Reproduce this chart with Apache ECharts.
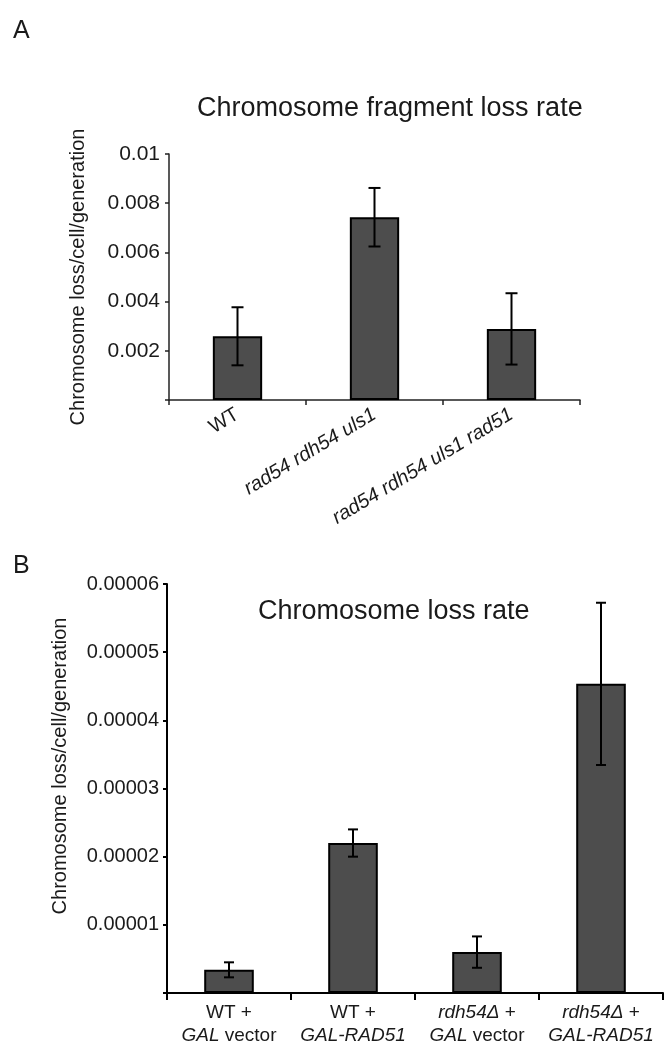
<!DOCTYPE html>
<html>
<head>
<meta charset="utf-8">
<script src="https://cdn.jsdelivr.net/npm/echarts@6/dist/echarts.min.js"></script>
<style>
  html, body { margin: 0; padding: 0; background: #fff; }
  #chart { width: 668px; height: 1050px; }
</style>
</head>
<body>
<div id="chart"></div>
<script>
// panel A: chromosome fragment loss
var catsA = ['WT', 'rad54 rdh54 uls1', 'rad54 rdh54 uls1 rad51']
var rateA = [0.00259, 0.00743, 0.00289]
var errA = [0.00118, 0.00119, 0.00145]
var ticksA = ['', '0.002', '0.004', '0.006', '0.008', '0.01']

// panel B: chromosome loss
var genoB = ['WT', 'WT', 'rdh54Δ', 'rdh54Δ']
var plasmidB = ['GAL vector', 'GAL-RAD51', 'GAL vector', 'GAL-RAD51']
var rateB = [0.0000034, 0.000022, 0.0000060, 0.00004535]
var errB = [0.0000011, 0.0000020, 0.0000023, 0.0000119]
var ticksB = ['', '0.00001', '0.00002', '0.00003', '0.00004', '0.00005', '0.00006']

var FONT = '"Liberation Sans", Arial, Helvetica, sans-serif'
var INK = '#1a1a1a'

function errData (vals, errs) {
  return vals.map(function (v, i) { return [i, v - errs[i], v + errs[i]] })
}

// vertical whisker with caps, placed through the axes' own coord()
function errorBars (cap) {
  return function (params, api) {
    var x = api.value(0)
    var hi = api.coord([x, api.value(2)])
    var lo = api.coord([x, api.value(1)])
    var st = { stroke: '#000', lineWidth: 2 }
    return {
      type: 'group',
      children: [
        { type: 'line', shape: { x1: hi[0], y1: hi[1], x2: lo[0], y2: lo[1] }, style: st },
        { type: 'line', shape: { x1: hi[0] - cap, y1: hi[1], x2: hi[0] + cap, y2: hi[1] }, style: st },
        { type: 'line', shape: { x1: lo[0] - cap, y1: lo[1], x2: lo[0] + cap, y2: lo[1] }, style: st }
      ]
    }
  }
}

function labelA (v) {
  return v === 'WT' ? '{n|' + v + '}' : '{i|' + v + '}'
}

function labelB (v, i) {
  var g = genoB[i]
  var first = g === 'WT' ? '{n|WT +}' : '{i|' + g + '}{n| +}'
  var p = plasmidB[i]
  var sp = p.indexOf(' ')
  var second = sp > 0 ? '{i|' + p.slice(0, sp) + '}{n|' + p.slice(sp) + '}' : '{i|' + p + '}'
  return first + '\n' + second
}

var chart = echarts.init(document.getElementById('chart'), null, { renderer: 'canvas' })
chart.setOption({
  animation: false,
  backgroundColor: '#fff',
  textStyle: { fontFamily: FONT, color: INK },
  title: [
    { text: 'Chromosome fragment loss rate', left: 197, top: 95, padding: 0,
      textStyle: { fontFamily: FONT, fontSize: 27, fontWeight: 'normal', color: INK } },
    { text: 'Chromosome loss rate', left: 258, top: 598, padding: 0,
      textStyle: { fontFamily: FONT, fontSize: 27, fontWeight: 'normal', color: INK } }
  ],
  graphic: [
    { type: 'text', left: 13, top: 19, style: { text: 'A', font: '25px ' + FONT, fill: INK } },
    { type: 'text', left: 13, top: 554, style: { text: 'B', font: '25px ' + FONT, fill: INK } },
    { type: 'text', x: 78, y: 277, rotation: Math.PI / 2,
      style: { text: 'Chromosome loss/cell/generation', font: '20px ' + FONT, fill: INK,
        align: 'center', verticalAlign: 'middle' } },
    { type: 'text', x: 60, y: 766, rotation: Math.PI / 2,
      style: { text: 'Chromosome loss/cell/generation', font: '20px ' + FONT, fill: INK,
        align: 'center', verticalAlign: 'middle' } }
  ],
  grid: [
    { left: 169, right: 88, top: 154, height: 246, outerBoundsMode: 'none' },
    { left: 167, right: 5, top: 584, height: 409, outerBoundsMode: 'none' }
  ],
  xAxis: [
    {
      gridIndex: 0, type: 'category', data: catsA,
      axisLine: { lineStyle: { color: '#222', width: 1.5 } },
      axisTick: { show: true, length: 5, alignWithLabel: false, lineStyle: { color: '#222', width: 1.5 } },
      axisLabel: {
        rotate: 31, margin: 13, interval: 0, formatter: labelA,
        rich: {
          n: { fontFamily: FONT, fontSize: 20, color: INK },
          i: { fontFamily: FONT, fontSize: 20, fontStyle: 'italic', color: INK }
        }
      }
    },
    {
      gridIndex: 1, type: 'category', data: genoB.map(function (g, i) { return g + ' + ' + plasmidB[i] }),
      axisLine: { lineStyle: { color: '#000', width: 2 } },
      axisTick: { show: true, length: 7, alignWithLabel: false, lineStyle: { color: '#000', width: 2 } },
      axisLabel: {
        margin: 8, interval: 0, formatter: labelB,
        rich: {
          n: { fontFamily: FONT, fontSize: 19, color: INK, lineHeight: 23 },
          i: { fontFamily: FONT, fontSize: 19, fontStyle: 'italic', color: INK, lineHeight: 23 }
        }
      }
    }
  ],
  yAxis: [
    {
      gridIndex: 0, type: 'value', min: 0, max: 0.01, interval: 0.002,
      splitLine: { show: false },
      axisLine: { show: true, lineStyle: { color: '#222', width: 1.5 } },
      axisTick: { show: true, length: 4, lineStyle: { color: '#222', width: 1.5 } },
      axisLabel: {
        margin: 9, fontFamily: FONT, fontSize: 21, color: INK,
        formatter: function (v, i) { return ticksA[i] }
      }
    },
    {
      gridIndex: 1, type: 'value', min: 0, max: 0.00006, interval: 0.00001,
      splitLine: { show: false },
      axisLine: { show: true, lineStyle: { color: '#000', width: 2 } },
      axisTick: { show: true, length: 4, lineStyle: { color: '#000', width: 2 } },
      axisLabel: {
        margin: 8, fontFamily: FONT, fontSize: 20, color: INK,
        formatter: function (v, i) { return ticksB[i] }
      }
    }
  ],
  series: [
    {
      type: 'bar', xAxisIndex: 0, yAxisIndex: 0, data: rateA, barWidth: '36%',
      itemStyle: { color: '#4d4d4d', borderColor: '#000', borderWidth: 2 }
    },
    {
      type: 'custom', xAxisIndex: 0, yAxisIndex: 0, z: 5,
      renderItem: errorBars(6), data: errData(rateA, errA),
      encode: { x: 0, y: [1, 2] }
    },
    {
      type: 'bar', xAxisIndex: 1, yAxisIndex: 1, data: rateB, barWidth: '40%',
      itemStyle: { color: '#4d4d4d', borderColor: '#000', borderWidth: 2 }
    },
    {
      type: 'custom', xAxisIndex: 1, yAxisIndex: 1, z: 5,
      renderItem: errorBars(5), data: errData(rateB, errB),
      encode: { x: 0, y: [1, 2] }
    }
  ]
})
</script>
</body>
</html>
